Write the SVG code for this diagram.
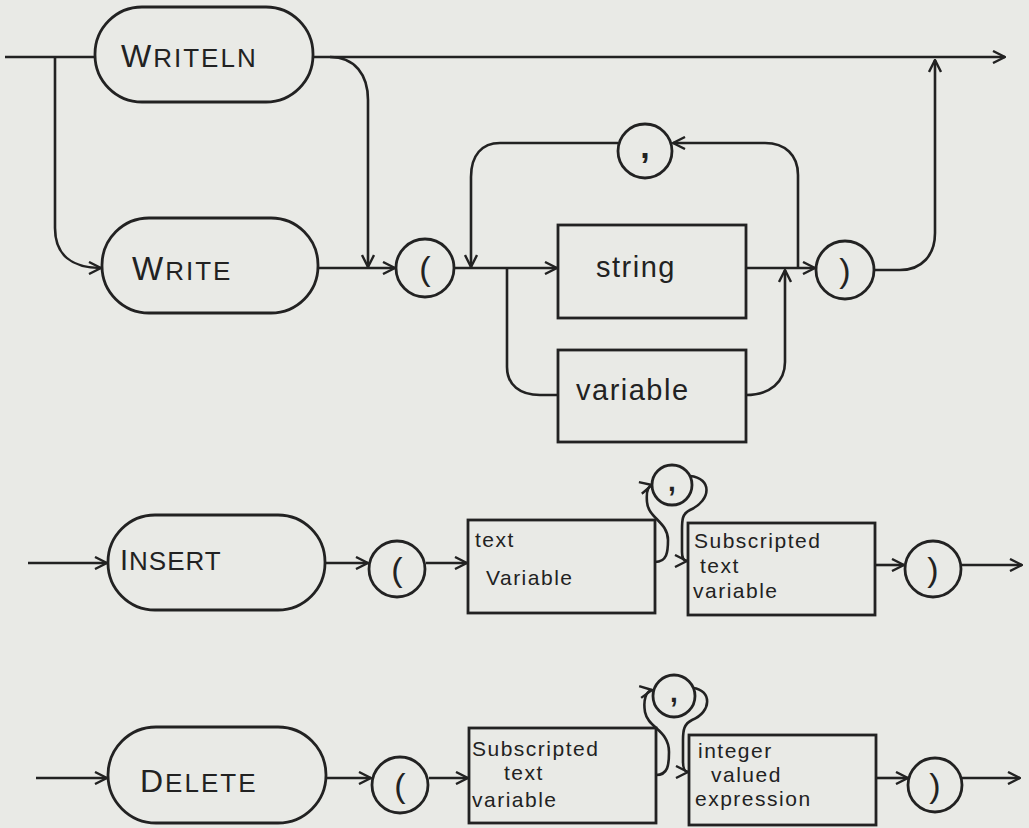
<svg xmlns="http://www.w3.org/2000/svg" width="1029" height="828" viewBox="0 0 1029 828">
<defs>
<marker id="arr" viewBox="0 0 14 14" refX="13" refY="7" markerWidth="14" markerHeight="14" markerUnits="userSpaceOnUse" orient="auto">
<path d="M1,1 L13,7 L1,13" fill="none" stroke="#222" stroke-width="2.4"/>
</marker>
</defs>
<style>
.bg{fill:#e9eae6}
.sh{fill:none;stroke:#222;stroke-width:2.8}
.ln{fill:none;stroke:#222;stroke-width:2.6}
.ar{marker-end:url(#arr)}
text{font-family:"Liberation Sans","DejaVu Sans",sans-serif;fill:#222}
.kw{font-size:26px;letter-spacing:2px}
.lb{font-size:29px;letter-spacing:1.5px}
.sm{font-size:21px;letter-spacing:1.5px}
.pc{font-size:34px;text-anchor:middle}
.cm{font-size:34px;text-anchor:middle;font-weight:bold}
</style>
<rect class="bg" x="0" y="0" width="1029" height="828"/>

<g id="connectors">
<!-- WRITE / WRITELN diagram -->
<path class="ln" d="M5,57 H95"/>
<path class="ln ar" d="M313,57 H1005"/>
<path class="ln ar" d="M55,57 V228 C55,255 72,268 101,268"/>
<path class="ln ar" d="M330,57 C355,57 368,75 368,100 V267"/>
<path class="ln ar" d="M318,268 H395"/>
<path class="ln ar" d="M454,268 H557"/>
<path class="ln ar" d="M798,268 V175 C798,155 785,143 765,143 H673"/>
<path class="ln ar" d="M618,143 H500 C482,143 471,155 471,177 V267"/>
<path class="ln" d="M507,268 V367 C507,385 520,395 540,395 H558"/>
<path class="ln ar" d="M746,268 H815"/>
<path class="ln ar" d="M746,395 C770,395 785,382 785,362 V270"/>
<path class="ln ar" d="M875,270 H900 C922,270 935,255 935,233 V60"/>
<!-- INSERT diagram -->
<path class="ln ar" d="M28,563 H107"/>
<path class="ln ar" d="M325,563 H368"/>
<path class="ln ar" d="M426,563 H467"/>
<path class="ln ar" d="M655,562 C667,562 668,552 668,540 C668,522 648,518 647,502 C646,490 648,486 652,485"/>
<path class="ln ar" d="M690,476 C712,478 712,500 690,510 C682,514 682,520 682,530 V552 C682,558 684,561 687,561"/>
<path class="ln ar" d="M875,565 H904"/>
<path class="ln ar" d="M961,565 H1022"/>
<!-- DELETE diagram -->
<path class="ln ar" d="M36,778 H107"/>
<path class="ln ar" d="M326,778 H371"/>
<path class="ln ar" d="M429,778 H468"/>
<path class="ln ar" d="M656,775 C668,775 669,765 669,752 C669,730 648,728 645,712 C643,700 646,691 652,690"/>
<path class="ln ar" d="M693,688 C712,690 712,712 692,720 C684,724 683,730 683,740 V762 C683,768 685,772 688,772"/>
<path class="ln ar" d="M876,778 H908"/>
<path class="ln ar" d="M961,778 H1020"/>
</g>

<g id="writeln">
<rect class="sh" x="95" y="7" width="218" height="95" rx="47"/>
<text class="kw" x="121" y="67"><tspan font-size="32">W</tspan>RITELN</text>
</g>
<g id="write">
<rect class="sh" x="102" y="218" width="216" height="95" rx="47"/>
<text class="kw" x="132" y="280" font-size="29px"><tspan font-size="33">W</tspan>RITE</text>
</g>
<g id="lparen1">
<circle class="sh" cx="425" cy="268" r="29"/>
<text class="pc" x="425" y="280">(</text>
</g>
<g id="comma1">
<circle class="sh" cx="645" cy="151" r="27"/>
<text class="cm" x="645" y="158">,</text>
</g>
<g id="string">
<rect class="sh" x="558" y="225" width="188" height="93"/>
<text class="lb" x="596" y="277">string</text>
</g>
<g id="variable">
<rect class="sh" x="558" y="350" width="188" height="92"/>
<text class="lb" x="576" y="400">variable</text>
</g>
<g id="rparen1">
<circle class="sh" cx="845" cy="270" r="29"/>
<text class="pc" x="845" y="282">)</text>
</g>

<g id="insert">
<rect class="sh" x="108" y="515" width="217" height="95" rx="47"/>
<text class="kw" x="120" y="570" font-size="24px" style="letter-spacing:1px"><tspan font-size="29">I</tspan>NSERT</text>
</g>
<g id="lparen2">
<circle class="sh" cx="397" cy="569" r="28"/>
<text class="pc" x="397" y="581">(</text>
</g>
<g id="textvar">
<rect class="sh" x="468" y="520" width="187" height="93"/>
<text class="sm" x="475" y="547">text</text>
<text class="sm" x="486" y="585">Variable</text>
</g>
<g id="comma2">
<circle class="sh" cx="672" cy="485" r="20"/>
<text class="cm" x="672" y="491" style="font-size:28px">,</text>
</g>
<g id="substextvar1">
<rect class="sh" x="688" y="523" width="187" height="92"/>
<text class="sm" x="694" y="548">Subscripted</text>
<text class="sm" x="700" y="573">text</text>
<text class="sm" x="693" y="598">variable</text>
</g>
<g id="rparen2">
<circle class="sh" cx="933" cy="569" r="28"/>
<text class="pc" x="933" y="581">)</text>
</g>

<g id="delete">
<rect class="sh" x="108" y="727" width="218" height="96" rx="48"/>
<text class="kw" x="140" y="792" font-size="26px"><tspan font-size="32">D</tspan>ELETE</text>
</g>
<g id="lparen3">
<circle class="sh" cx="400" cy="785" r="28"/>
<text class="pc" x="400" y="797">(</text>
</g>
<g id="substextvar2">
<rect class="sh" x="469" y="728" width="187" height="95"/>
<text class="sm" x="472" y="756">Subscripted</text>
<text class="sm" x="504" y="780">text</text>
<text class="sm" x="472" y="807">variable</text>
</g>
<g id="comma3">
<circle class="sh" cx="674" cy="696" r="21"/>
<text class="cm" x="674" y="702" style="font-size:28px">,</text>
</g>
<g id="intexpr">
<rect class="sh" x="689" y="735" width="187" height="90"/>
<text class="sm" x="698" y="758">integer</text>
<text class="sm" x="711" y="782">valued</text>
<text class="sm" x="695" y="806">expression</text>
</g>
<g id="rparen3">
<circle class="sh" cx="935" cy="785" r="27"/>
<text class="pc" x="935" y="797">)</text>
</g>
</svg>
